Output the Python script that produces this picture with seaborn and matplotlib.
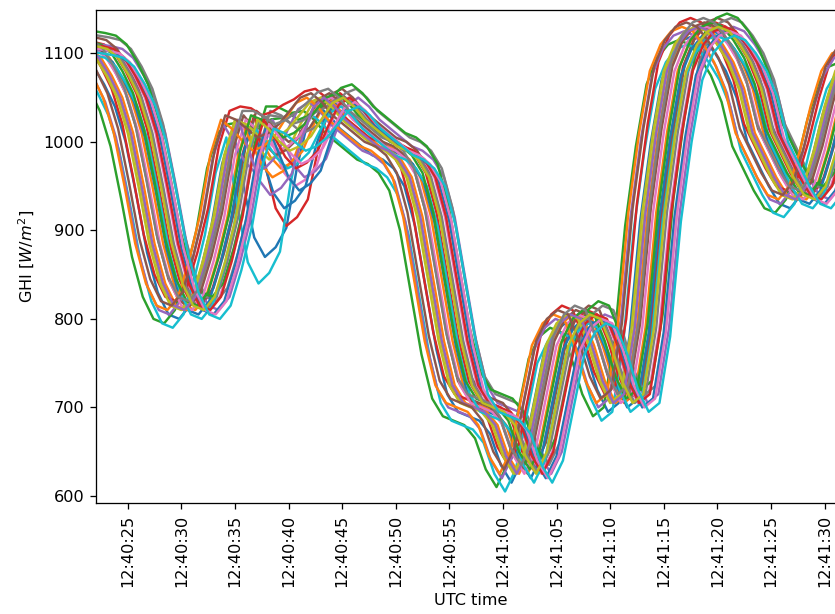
import numpy as np
import pandas as pd
import matplotlib
matplotlib.use("Agg")
import matplotlib.pyplot as plt
import matplotlib.dates as mdates
import seaborn as sns

# typical GHI trace read off the middle of the bundle, seconds after 12:40:00
profile_t = list(range(18, 97))
profile_ghi = [1110, 1112, 1110, 1108, 1105, 1095, 1075, 1050, 1010, 950,
               885, 840, 815, 810, 825, 865, 915, 985, 1025, 1020,
               1010, 1000, 1005, 1015, 1030, 1045, 1050, 1040, 1025, 1015,
               1005, 995, 990, 980, 960, 915, 845, 775, 725, 705,
               700, 695, 680, 645, 625, 650, 710, 770, 795, 805,
               800, 770, 730, 705, 715, 790, 920, 1010, 1080, 1110,
               1125, 1130, 1125, 1110, 1090, 1060, 1010, 985, 960, 940,
               935, 950, 990, 1040, 1080, 1100, 1105, 1105, 1100]

# shape of the dip some sensors show around 12:40:37-43
dip_t = [37, 38, 39, 40, 41, 42, 43]
dip_shape = [0.5, 0.9, 1.0, 0.95, 0.85, 0.4, 0.1]

# per sensor: time lag [s], level offset [W/m2], dip depth [W/m2]
sensor_lag = [-1.2, 0.3, -2.6, 0.8, 2.5, 1.0, 1.6, 2.3, -0.8, -1.8,
              0.6, -0.5, 1.9, -1.5, -2.1, -0.2, 0.0, 1.3, -1.0, 0.9,
              2.0, -2.3, 0.5, 1.7, -0.7, -1.9, 2.2, -0.3, 1.1, 2.6]
sensor_offset = [-10, 0, -15, 5, 0, 10, 0, 10, 0, -20,
                 -5, 0, 15, 10, -5, 5, 0, 0, 0, -10,
                 -5, 0, 5, 0, 0, 5, -5, 10, 0, -10]
sensor_dip = [120, 30, -30, 100, 40, 10, 50, 0, 20, 140,
              70, 40, -10, -20, 30, 20, 10, -20, 0, 20,
              50, 10, 0, 30, 60, 0, 20, -10, 10, 0]

t0 = pd.Timestamp("2019-07-15 12:40:00")
rows = []
for i in range(len(sensor_lag)):
    ghi = np.array(profile_ghi, dtype=float) + sensor_offset[i]
    for k, td in enumerate(dip_t):
        ghi[profile_t.index(td)] -= sensor_dip[i] * dip_shape[k]
    times = t0 + pd.to_timedelta(np.array(profile_t) + sensor_lag[i], unit="s")
    rows.append(pd.DataFrame({"time": times, "GHI": ghi, "sensor": i}))
df = pd.concat(rows, ignore_index=True)

# reference looks like default matplotlib rendered at ~116 dpi
dpi = 116
fig = plt.figure(figsize=(835 / dpi, 614 / dpi), dpi=dpi)
ax = fig.add_axes([96 / 835, 1 - 503 / 614, 749 / 835, 493 / 614])

sns.lineplot(data=df, x="time", y="GHI", hue="sensor",
             palette=sns.color_palette("tab10", len(sensor_lag)),
             legend=False, linewidth=1.5, ax=ax)

ax.set_xlim(t0 + pd.Timedelta(seconds=22.04), t0 + pd.Timedelta(seconds=91.91))
ax.set_ylim(592, 1149)
ax.xaxis.set_major_locator(mdates.SecondLocator(bysecond=range(0, 60, 5)))
ax.xaxis.set_major_formatter(mdates.DateFormatter("%H:%M:%S"))
plt.setp(ax.get_xticklabels(), rotation=90)
ax.set_xlabel("UTC time")
ax.set_ylabel("GHI [$W/m^2$]")

fig.savefig("out.png", dpi=dpi)
